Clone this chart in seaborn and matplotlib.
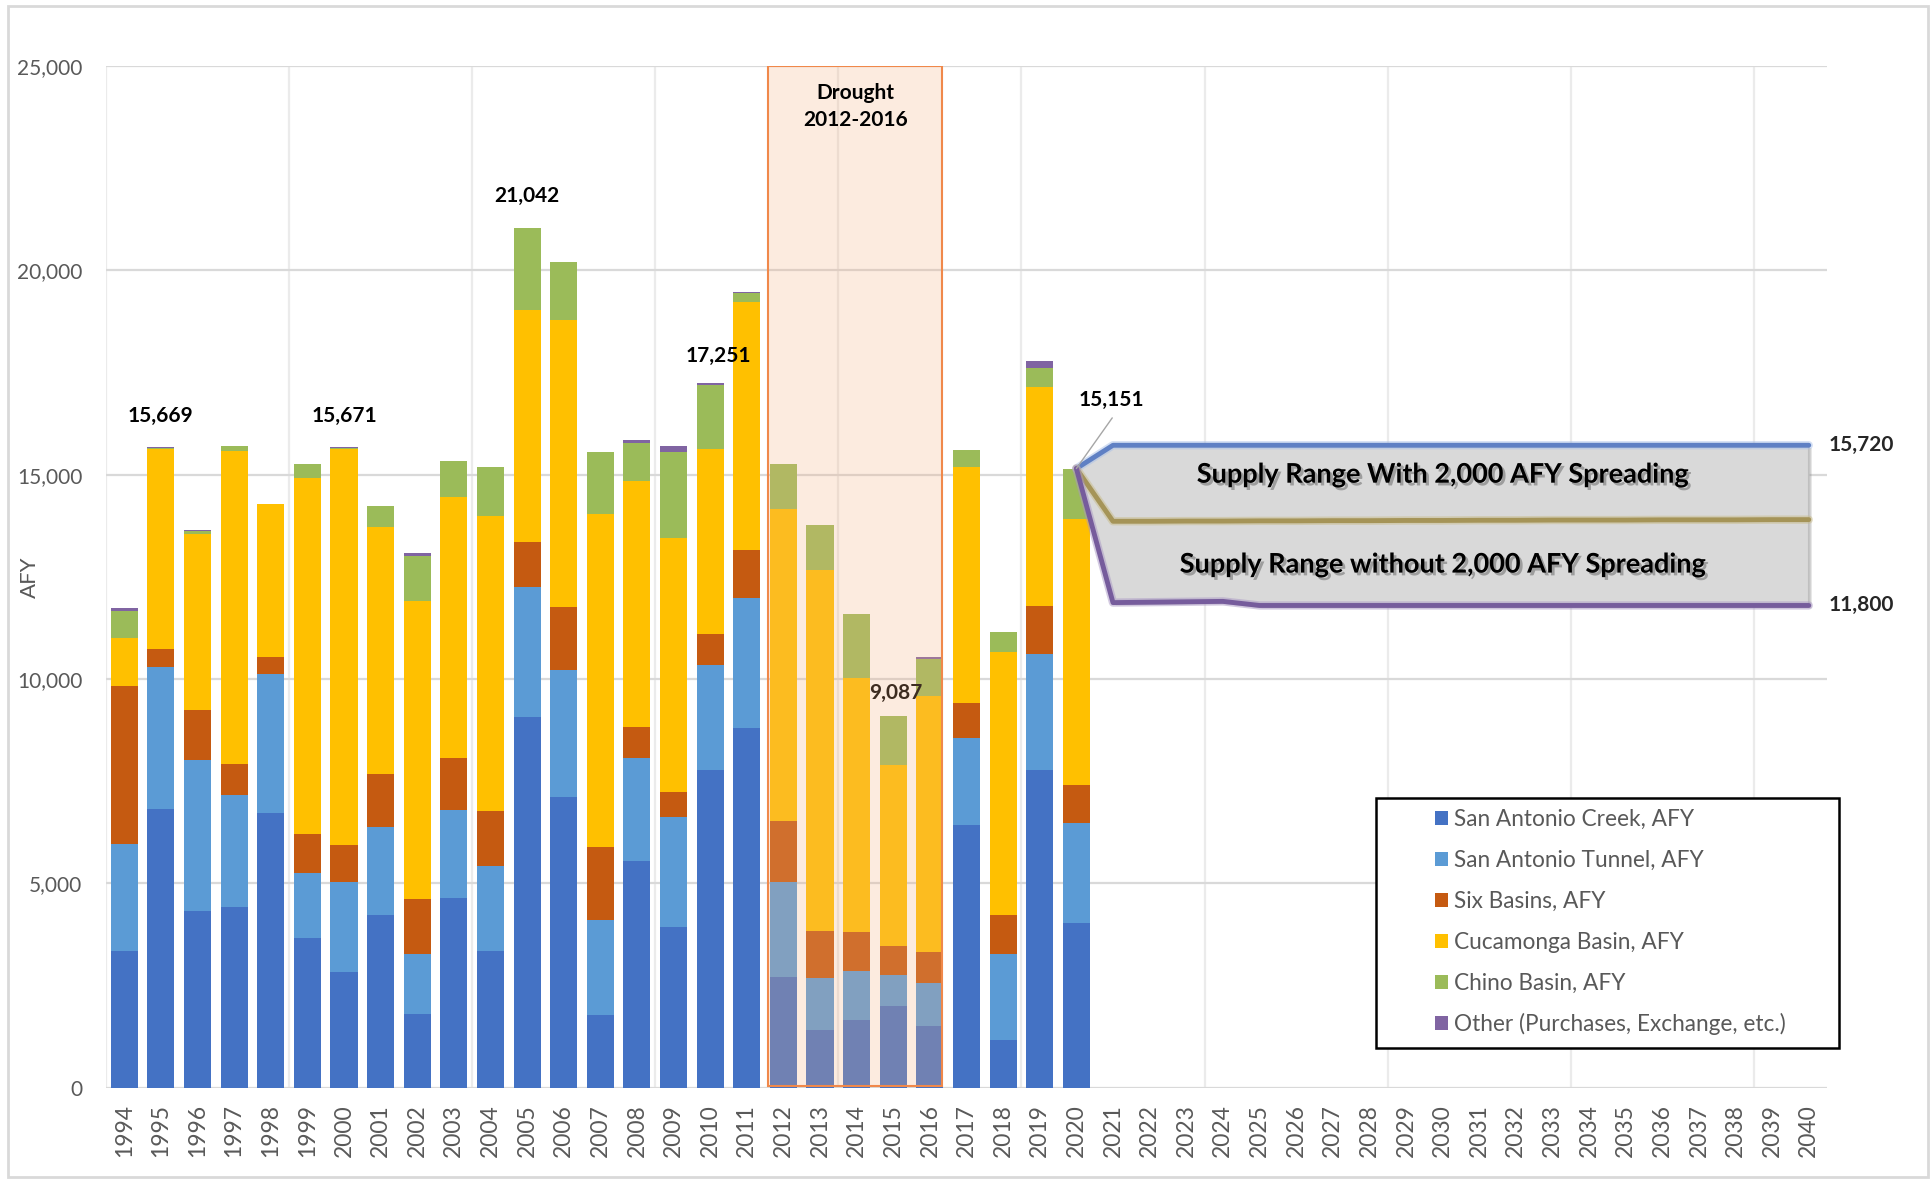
import matplotlib

matplotlib.use("Agg")
import matplotlib.pyplot as plt
import matplotlib.patheffects as pe
from matplotlib.colors import to_rgba
from matplotlib.patches import Patch, Rectangle
from matplotlib.ticker import FuncFormatter
import numpy as np
import pandas as pd
import seaborn as sns

# ---- data -------------------------------------------------------------
years = list(range(1994, 2041))
hist_years = list(range(1994, 2021))

san_antonio_creek = [3340, 6810, 4335, 4430, 6730, 3665, 2820, 4235, 1810, 4630, 3340, 9060, 7125, 1785,
                     5540, 3940, 7775, 8800, 2710, 1420, 1655, 2010, 1515, 6435, 1165, 7775, 4020]
san_antonio_tunnel = [2620, 3475, 3685, 2720, 3400, 1585, 2225, 2140, 1460, 2165, 2080, 3195, 3100, 2325,
                      2520, 2680, 2580, 3180, 2335, 1260, 1210, 740, 1045, 2125, 2105, 2835, 2455]
six_basins = [3870, 455, 1230, 760, 420, 955, 885, 1300, 1340, 1280, 1360, 1105, 1530, 1775,
              760, 620, 750, 1170, 1470, 1160, 955, 720, 750, 860, 965, 1180, 935]
cucamonga_basin = [1170, 4900, 4300, 7660, 3730, 8710, 9705, 6055, 7290, 6380, 7220, 5675, 7040, 8160,
                   6030, 6205, 4535, 6070, 7635, 8830, 6205, 4430, 6285, 5780, 6425, 5350, 6505]
chino_basin = [660, 20, 75, 130, 10, 340, 25, 500, 1120, 875, 1200, 2005, 1400, 1500,
               930, 2115, 1560, 225, 1105, 1095, 1560, 1185, 890, 400, 490, 470, 1236]
other = [70, 9, 15, 0, 0, 0, 11, 15, 70, 10, 0, 2, 15, 20,
         65, 140, 51, 25, 5, 5, 0, 2, 50, 10, 0, 180, 0]

series_names = [
    "San Antonio Creek, AFY",
    "San Antonio Tunnel, AFY",
    "Six Basins, AFY",
    "Cucamonga Basin, AFY",
    "Chino Basin, AFY",
    "Other (Purchases, Exchange, etc.)",
]
series_colors = ["#4472C4", "#5B9BD5", "#C55A11", "#FFC000", "#9BBB59", "#8064A2"]

proj_years = list(range(2020, 2041))
supply_with_spreading = [15151, 15720, 15720, 15720, 15720, 15720, 15720, 15720, 15720, 15720, 15720,
                         15720, 15720, 15720, 15720, 15720, 15720, 15720, 15720, 15720, 15720]
supply_mid = [15151, 13860, 13860, 13865, 13865, 13870, 13870, 13875, 13875, 13880, 13880,
              13885, 13885, 13890, 13890, 13890, 13895, 13895, 13895, 13900, 13900]
supply_without_spreading = [15151, 11870, 11880, 11890, 11900, 11800, 11800, 11800, 11800, 11800, 11800,
                            11800, 11800, 11800, 11800, 11800, 11800, 11800, 11800, 11800, 11800]

labelled_years = [1995, 2000, 2005, 2010, 2015, 2020]

# ---- frame ------------------------------------------------------------
sns.set_theme(style="white")
plt.rcParams["font.family"] = ["Lato", "DejaVu Sans"]
GRAY_TXT = "#595959"
GRID = "#D9D9D9"

pad = len(years) - len(hist_years)
stack = np.array([san_antonio_creek, san_antonio_tunnel, six_basins,
                  cucamonga_basin, chino_basin, other], dtype=float)
stack = np.hstack([stack, np.zeros((stack.shape[0], pad))])
cum = np.cumsum(stack, axis=0)
year_labels = [str(y) for y in years]
df = pd.DataFrame({"year": year_labels})
for i, name in enumerate(series_names):
    df[name] = cum[i]

fig = plt.figure(figsize=(19.33, 11.81), dpi=100)
ax = fig.add_axes([0.0548, 0.0790, 0.8904, 0.8651])

# stacked bars: draw cumulative totals from the top series down
for i in range(len(series_names) - 1, -1, -1):
    sns.barplot(data=df, x="year", y=series_names[i], order=year_labels, color=series_colors[i],
                saturation=1, width=0.74, errorbar=None, linewidth=0, ax=ax, zorder=2)

ax.set_xlim(-0.5, len(years) - 0.5)
ax.set_ylim(0, 25000)
ax.set_yticks(range(0, 25001, 5000))
ax.yaxis.set_major_formatter(FuncFormatter(lambda v, p: f"{int(v):,}"))
ax.set_xticks(range(len(years)))
ax.set_xticklabels(year_labels, rotation=90)
ax.set_xticks(np.arange(-0.5, len(years) - 0.4, 2.5), minor=True)
ax.grid(axis="y", which="major", color=GRID, lw=1.6)
ax.grid(axis="x", which="minor", color="#EBEBEB", lw=1.6)
ax.grid(axis="x", which="major", visible=False)
ax.set_axisbelow(True)
for s in ax.spines.values():
    s.set_visible(False)
ax.axhline(0, color=GRID, lw=2, zorder=1)
ax.tick_params(axis="x", which="both", length=0, pad=12, labelsize=16.5, labelcolor=GRAY_TXT)
ax.tick_params(axis="y", length=0, pad=17, labelsize=15, labelcolor=GRAY_TXT)
ax.set_xlabel("")
ax.set_ylabel("")
fig.text(0.0155, 0.511, "AFY", rotation=90, ha="center", va="center", fontsize=16, color=GRAY_TXT)

# drought shading
x0 = years.index(2012)
ax.add_patch(Rectangle((x0 - 0.43, 50), 4.76, 24950, facecolor=to_rgba("#F4B183", 0.25),
                       edgecolor="#F0884A", lw=1.5, zorder=4))
ax.text(x0 + 1.97, 24000, "Drought\n2012-2016", ha="center", va="center", fontsize=15,
        fontweight="bold", color="black", linespacing=1.45, zorder=6)

# total labels
totals = cum[-1]
offsets = {1995: (0, 773), 2000: (0, 773), 2005: (0, 774), 2010: (0.23, 661), 2015: (0.07, 578),
           2020: (0.96, 1668)}
for yr in labelled_years:
    i = years.index(yr)
    dx, dy = offsets[yr]
    ax.text(i + dx, totals[i] + dy, f"{int(totals[i]):,}", ha="center", va="center",
            fontsize=15, fontweight="bold", color="black", zorder=3 if yr == 2015 else 6)
i20 = years.index(2020)
ax.plot([i20 + 0.98, i20], [16390, totals[i20]], color="#A6A6A6", lw=1, zorder=7)

# supply projection range
px = np.array([years.index(y) for y in proj_years])
ax.fill_between(px, supply_without_spreading, supply_with_spreading, facecolor="#D9D9D9",
                edgecolor="#BFBFBF", lw=1.2, zorder=5,
                path_effects=[pe.withSimplePatchShadow(offset=(2, -2), shadow_rgbFace="#808080", alpha=0.35)])
for vals, col, glow in [(supply_with_spreading, "#5F80C4", "#A9C0E8"),
                        (supply_mid, "#A59458", "#C9BC8A"),
                        (supply_without_spreading, "#765C9C", "#A996C4")]:
    ax.plot(px, vals, color=glow, lw=6, alpha=0.5, solid_capstyle="round", zorder=6)
    ax.plot(px, vals, color=col, lw=3.5, solid_capstyle="round", zorder=6)

shadow = [pe.withSimplePatchShadow(offset=(2, -2), shadow_rgbFace="#555555", alpha=0.45)]
ax.text(years.index(2030), 15000, "Supply Range With 2,000 AFY Spreading", ha="center", va="center",
        fontsize=19.5, fontweight="bold", color="black", zorder=8, path_effects=shadow)
ax.text(years.index(2030), 12800, "Supply Range without 2,000 AFY Spreading", ha="center", va="center",
        fontsize=19.5, fontweight="bold", color="black", zorder=8, path_effects=shadow)
ax.text(px[-1] + 0.55, supply_with_spreading[-1], f"{supply_with_spreading[-1]:,}", ha="left",
        va="center", fontsize=15, fontweight="bold", color="#262626", clip_on=False)
ax.text(px[-1] + 0.55, supply_without_spreading[-1], f"{supply_without_spreading[-1]:,}", ha="left",
        va="center", fontsize=15, fontweight="bold", color="#262626", clip_on=False)

# legend with its own frame
fig.patches.append(Rectangle((0.7117, 0.1127), 0.2398, 0.2119, transform=fig.transFigure,
                             facecolor="white", edgecolor="black", lw=1.8, zorder=9))
handles = [Patch(facecolor=c, edgecolor="none") for c in series_colors]
leg = fig.legend(handles, series_names, loc="upper left", bbox_to_anchor=(0.7367, 0.3243),
                 frameon=False, fontsize=16.3, labelcolor=GRAY_TXT, borderpad=0, labelspacing=0.875,
                 handlelength=0.57, handleheight=0.57, handletextpad=0.27)
leg.set_zorder(10)

# outer chart border
fig.patches.append(Rectangle((0.004, 0.0034), 0.9933, 0.9918, transform=fig.transFigure,
                             facecolor="none", edgecolor=GRID, lw=2))

fig.savefig("out.png", dpi=100)
plt.close(fig)
